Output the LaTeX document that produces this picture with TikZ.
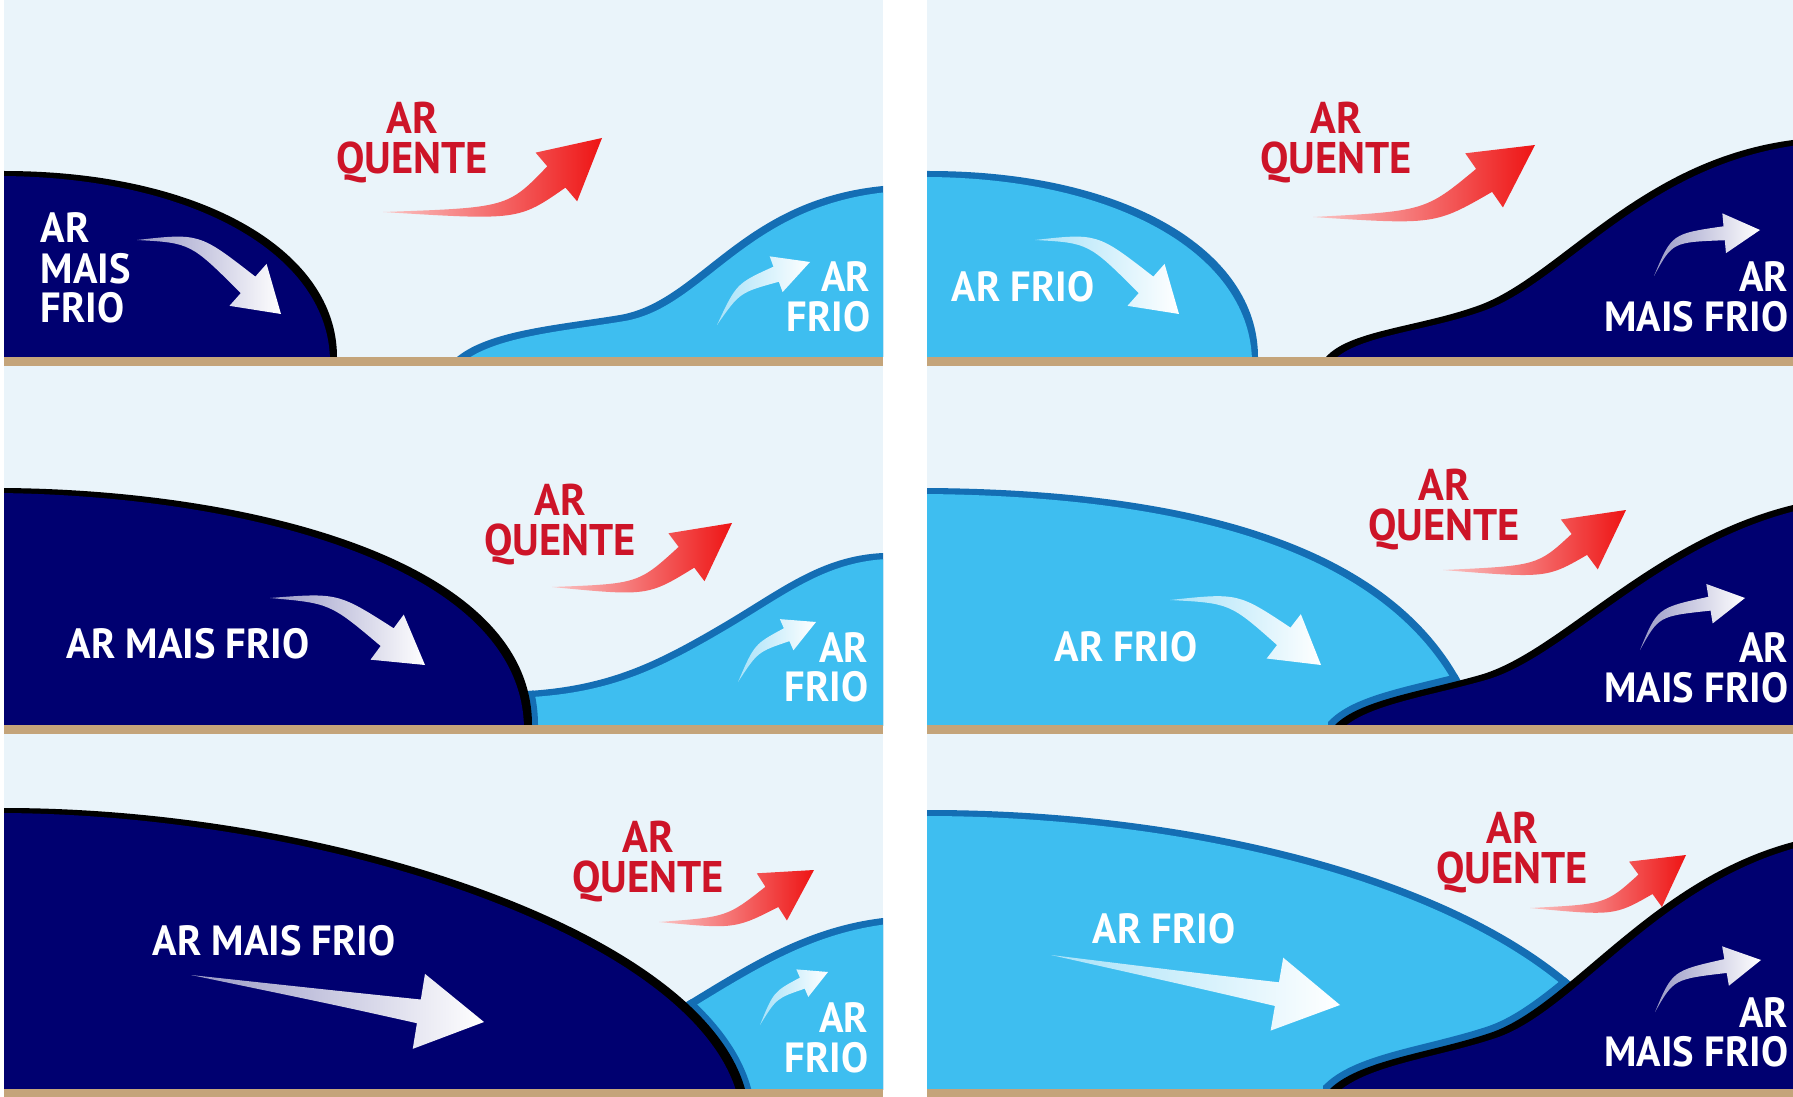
\documentclass[tikz,border=0pt]{standalone}
\usepackage{fontspec}
\newfontfamily\labfont{PT Sans}[FakeStretch=0.96]
\usetikzlibrary{calc}
\definecolor{sky}{RGB}{234,244,250}
\definecolor{navy}{RGB}{0,0,112}
\definecolor{lblue}{RGB}{62,190,240}
\definecolor{dblue}{RGB}{20,110,180}
\definecolor{ground}{RGB}{196,164,122}
\definecolor{txtred}{RGB}{205,20,40}
\definecolor{arrred}{RGB}{238,20,20}
\tikzset{
  wlab/.style={text=white, font=\labfont\bfseries\fontsize{12pt}{12pt}\selectfont, inner sep=0pt},
  rlab/.style={text=txtred, font=\labfont\bfseries\fontsize{12.6pt}{12pt}\selectfont, inner sep=0pt},
  wnavy/.style={left color=navy!40!white, right color=white},
  wlb/.style={left color=lblue!45!white, right color=white},
  redarr/.style={left color=arrred!25!white, right color=arrred},
}
% #1 tail, #2 control, #3 tip, #4 shaft half width, #5 head half width, #6 head length, #7 shading style
\newcommand\farrow[7]{%
  \coordinate (fab) at ($(#3)!{#6*0.01cm}!(#2)$);
  \coordinate (fb1) at ($(fab)!{#4*0.01cm}!90:(#3)$);
  \coordinate (fb2) at ($(fab)!{#4*0.01cm}!-90:(#3)$);
  \coordinate (fh1) at ($(fab)!{#5*0.01cm}!90:(#3)$);
  \coordinate (fh2) at ($(fab)!{#5*0.01cm}!-90:(#3)$);
  \coordinate (fc1) at ($(#2)!{#4*0.6*0.01cm}!90:(#3)$);
  \coordinate (fc2) at ($(#2)!{#4*0.6*0.01cm}!-90:(#3)$);
  \shade[#7] (#1) .. controls (fc1) .. (fb1) -- (fh1) -- (#3) -- (fh2) -- (fb2) .. controls (fc2) .. (#1) -- cycle;
}
\begin{document}
\begin{tikzpicture}[x=0.01cm,y=-0.01cm]
\useasboundingbox (0,0) rectangle (1793,1097);
\fill[white] (0,0) rectangle (1793,1097);

% ---------- Row 1 left ----------
\begin{scope}
\clip (4,0) rectangle (883,357);
\fill[sky] (4,0) rectangle (883,357);
\def\pA{(457,400) -- (457,357) .. controls (490,330) and (560,325) .. (620,315) .. controls (700,301) and (740,200) .. (883,186) -- (920,186) -- (920,400) -- cycle}
\fill[dblue] \pA;
\fill[lblue, shift={(5,6)}] \pA;
\def\pB{(-30,400) -- (-30,171) -- (4,171) .. controls (200,171) and (337,250) .. (337,357) -- (337,400) -- cycle}
\fill[black] \pB;
\fill[navy, shift={(-7,5)}] \pB;
\end{scope}

% ---------- Row 2 left ----------
\begin{scope}
\clip (4,366) rectangle (883,725);
\fill[sky] (4,366) rectangle (883,725);
\def\pA{(505,760) -- (505,692) .. controls (600,690) and (650,666) .. (720,625) .. controls (780,590) and (820,556) .. (883,553) -- (920,553) -- (920,760) -- cycle}
\def\pB{(-30,760) -- (-30,488) -- (4,488) .. controls (250,490) and (532,560) .. (532,725) -- (532,760) -- cycle}
\fill[dblue] \pA;
\fill[lblue, shift={(4,6)}] \pA;
\begin{scope}\clip \pA; \draw[dblue, line width=0.12cm] \pB; \end{scope}
\fill[black] \pB;
\fill[navy, shift={(-8,5)}] \pB;
\end{scope}

% ---------- Row 3 left ----------
\begin{scope}
\clip (4,734) rectangle (883,1089);
\fill[sky] (4,734) rectangle (883,1089);
\def\pA{(600,1130) -- (600,1040) -- (670,1012) .. controls (740,970) and (800,928) .. (883,918) -- (920,918) -- (920,1130) -- cycle}
\def\pB{(-30,1130) -- (-30,808) -- (4,808) .. controls (330,808) and (700,930) .. (745,1089) -- (745,1130) -- cycle}
\fill[dblue] \pA;
\fill[lblue, shift={(5,6)}] \pA;
\begin{scope}\clip \pA; \draw[dblue, line width=0.12cm] \pB; \end{scope}
\fill[black] \pB;
\fill[navy, shift={(-8,5)}] \pB;
\end{scope}

% ---------- Row 1 right ----------
\begin{scope}
\clip (927,0) rectangle (1793,357);
\fill[sky] (927,0) rectangle (1793,357);
\def\pA{(890,400) -- (890,171) -- (929,171) .. controls (1125,171) and (1258,250) .. (1258,357) -- (1258,400) -- cycle}
\def\pB{(1326,400) -- (1326,357) .. controls (1350,330) and (1420,327) .. (1480,305) .. controls (1560,275) and (1640,160) .. (1793,140) -- (1830,140) -- (1830,400) -- cycle}
\fill[dblue] \pA;
\fill[lblue, shift={(-6,6)}] \pA;
\fill[black] \pB;
\fill[navy, shift={(6,5)}] \pB;
\end{scope}

% ---------- Row 2 right ----------
\begin{scope}
\clip (927,366) rectangle (1793,725);
\fill[sky] (927,366) rectangle (1793,725);
\def\pA{(890,760) -- (890,488) -- (929,488) .. controls (1180,490) and (1400,540) .. (1470,700) -- (1520,760) -- cycle}
\def\pB{(1335,760) -- (1335,725) .. controls (1360,700) and (1420,692) .. (1480,675) .. controls (1560,652) and (1650,540) .. (1793,505) -- (1830,505) -- (1830,760) -- cycle}
\fill[dblue] \pA;
\fill[lblue, shift={(-5,6)}] \pA;
\begin{scope}\clip \pA; \draw[dblue, line width=0.14cm] \pB; \end{scope}
\fill[black] \pB;
\fill[navy, shift={(6,5)}] \pB;
\end{scope}

% ---------- Row 3 right ----------
\begin{scope}
\clip (927,734) rectangle (1793,1089);
\fill[sky] (927,734) rectangle (1793,1089);
\def\pA{(890,1130) -- (890,810) -- (929,810) .. controls (1200,810) and (1480,880) .. (1600,1010) -- (1640,1130) -- cycle}
\def\pB{(1330,1130) -- (1330,1089) .. controls (1360,1060) and (1430,1053) .. (1490,1033) .. controls (1570,1006) and (1650,880) .. (1793,842) -- (1830,842) -- (1830,1130) -- cycle}
\fill[dblue] \pA;
\fill[lblue, shift={(-5,6)}] \pA;
\begin{scope}\clip \pA; \draw[dblue, line width=0.14cm] \pB; \end{scope}
\fill[black] \pB;
\fill[navy, shift={(6,5)}] \pB;
\end{scope}

% ---------- ground ----------
\fill[ground] (4,357) rectangle (883,366);
\fill[ground] (927,357) rectangle (1793,366);
\fill[ground] (4,725) rectangle (883,734);
\fill[ground] (927,725) rectangle (1793,734);
\fill[ground] (4,1089) rectangle (883,1097);
\fill[ground] (927,1089) rectangle (1793,1097);

% ---------- arrows ----------
% main white arrows
\farrow{137,240}{195,238}{281,314}{11}{28}{44}{wnavy}
\farrow{1035,240}{1093,238}{1179,314}{11}{28}{44}{wlb}
\farrow{270,598}{334,598}{425,665}{11}{28}{47}{wnavy}
\farrow{1170,600}{1234,598}{1321,665}{11}{28}{47}{wlb}
\farrow{191,975}{337,998}{484,1022}{12}{38}{66}{wnavy}
\farrow{1051,955}{1195,980}{1340,1005}{12}{37}{64}{wlb}
% red arrows
\farrow{383,212}{513,214}{602,138}{14}{32}{60}{redarr}
\farrow{1313,217}{1430,218}{1535,145}{14}{33}{62}{redarr}
\farrow{552,587}{643,590}{732,523}{13}{30}{57}{redarr}
\farrow{1443,570}{1542,572}{1626,510}{13}{31}{58}{redarr}
\farrow{659,922}{731,923}{814,870}{12}{28}{50}{redarr}
\farrow{1530,908}{1610,910}{1686,855}{12}{28}{50}{redarr}
% small white arrows
\farrow{717,325}{738,288}{810,262}{8}{19}{36}{wlb}
\farrow{738,682}{756,648}{816,622}{7}{17}{32}{wlb}
\farrow{760,1025}{775,995}{828,972}{6}{15}{28}{wlb}
\farrow{1654,276}{1672,238}{1760,230}{7}{20}{36}{wnavy}
\farrow{1640,650}{1658,612}{1745,598}{7}{20}{36}{wnavy}
\farrow{1655,1012}{1673,975}{1761,960}{7}{20}{36}{wnavy}

% ---------- labels ----------
% row 1 left
\node[wlab, anchor=base west] (l1a) at (40,243) {AR};
\node[wlab, anchor=base west] (l1b) at (40,284) {MAIS};
\node[wlab, anchor=base west] (l1c) at (40,323) {FRIO};
\node[rlab, anchor=base] (l1q1) at (412,134) {AR};
\node[rlab, anchor=base] (l1q2) at (412,174) {QUENTE};
\node[wlab, anchor=base east] (l1f1) at (871,292) {AR};
\node[wlab, anchor=base east] (l1f2) at (871,331) {FRIO};
% row 1 right
\node[wlab, anchor=base west] (r1a) at (951,302) {AR FRIO};
\node[rlab, anchor=base] (r1q1) at (1336,134) {AR};
\node[rlab, anchor=base] (r1q2) at (1336,174) {QUENTE};
\node[wlab, anchor=base east] (r1m1) at (1789,292) {AR};
\node[wlab, anchor=base east] (r1m2) at (1789,331) {MAIS FRIO};
% row 2 left
\node[wlab, anchor=base west] (l2a) at (66,658) {AR MAIS FRIO};
\node[rlab, anchor=base] (l2q1) at (560,515) {AR};
\node[rlab, anchor=base] (l2q2) at (560,555) {QUENTE};
\node[wlab, anchor=base east] (l2f1) at (869,662) {AR};
\node[wlab, anchor=base east] (l2f2) at (869,701) {FRIO};
% row 2 right
\node[wlab, anchor=base west] (r2a) at (1054,661) {AR FRIO};
\node[rlab, anchor=base] (r2q1) at (1444,501) {AR};
\node[rlab, anchor=base] (r2q2) at (1444,541) {QUENTE};
\node[wlab, anchor=base east] (r2m1) at (1789,662) {AR};
\node[wlab, anchor=base east] (r2m2) at (1789,702) {MAIS FRIO};
% row 3 left
\node[wlab, anchor=base west] (l3a) at (152,955) {AR MAIS FRIO};
\node[rlab, anchor=base] (l3q1) at (648,852) {AR};
\node[rlab, anchor=base] (l3q2) at (648,892) {QUENTE};
\node[wlab, anchor=base east] (l3f1) at (869,1032) {AR};
\node[wlab, anchor=base east] (l3f2) at (869,1072) {FRIO};
% row 3 right
\node[wlab, anchor=base west] (r3a) at (1092,943) {AR FRIO};
\node[rlab, anchor=base] (r3q1) at (1512,843) {AR};
\node[rlab, anchor=base] (r3q2) at (1512,883) {QUENTE};
\node[wlab, anchor=base east] (r3m1) at (1789,1027) {AR};
\node[wlab, anchor=base east] (r3m2) at (1789,1066) {MAIS FRIO};
\end{tikzpicture}
\end{document}
